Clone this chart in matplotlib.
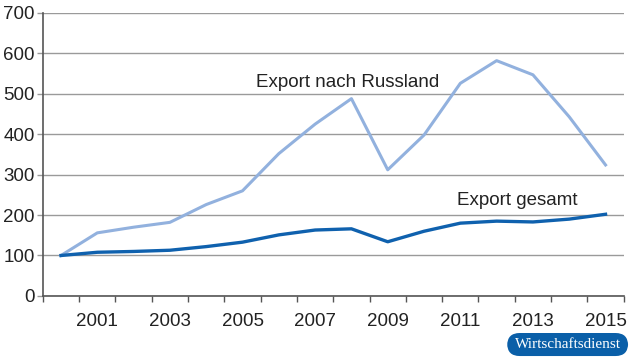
import matplotlib
matplotlib.use('Agg')
import matplotlib.pyplot as plt
import matplotlib.transforms as mtransforms
from matplotlib.patches import FancyBboxPatch
import numpy as np

plt.rcParams['font.family'] = ['Liberation Sans', 'DejaVu Sans']

years = list(range(2000, 2016))
russland = [100, 156, 170, 182, 226, 260, 352, 425, 488, 312, 398, 526, 582, 547, 443, 324]
gesamt = [100, 108, 110, 113, 122, 133, 151, 163, 166, 134, 160, 180, 185, 183, 190, 202]
year_labels = ['2001', '2003', '2005', '2007', '2009', '2011', '2013', '2015']
yticks = [0, 100, 200, 300, 400, 500, 600, 700]

c_light = '#92b1de'
c_dark = '#0f61ae'
c_text = '#222222'

fig = plt.figure(figsize=(6.3, 3.6), dpi=100)
ax = fig.add_axes([0.068, 0.178, 0.922, 0.786])

x = np.arange(len(years))
ax.plot(x, russland, color=c_light, lw=2.2, zorder=3)
ax.plot(x, gesamt, color=c_dark, lw=2.4, zorder=4)

ax.set_xlim(-0.5, len(years) - 0.5)
ax.set_ylim(0, 700)
ax.set_yticks(yticks)
ax.set_yticklabels([str(v) for v in yticks], fontsize=13.5, color=c_text)
ax.yaxis.grid(True, color='#9a9a9a', lw=1)
ax.set_axisbelow(True)
ax.tick_params(axis='y', length=4, width=1, color='#9a9a9a', pad=2)

lab_pos = [years.index(int(s)) for s in year_labels]
ax.set_xticks(lab_pos)
ax.set_xticklabels(year_labels, fontsize=13.5, color=c_text)
shift = mtransforms.ScaledTranslation(-4 / 100, 0, fig.dpi_scale_trans)
for lab in ax.get_xticklabels():
    lab.set_transform(lab.get_transform() + shift)
ax.set_xticks(np.arange(-0.5, len(years)), minor=True)
ax.tick_params(axis='x', which='major', length=0, pad=12)
ax.tick_params(axis='x', which='minor', length=4.5, width=1, color='#555555')

for s in ['top', 'right']:
    ax.spines[s].set_visible(False)
ax.spines['left'].set_color('#555555')
ax.spines['bottom'].set_color('#555555')
ax.spines['left'].set_linewidth(1.2)
ax.spines['bottom'].set_linewidth(1.2)

ax.text(5.37, 528, 'Export nach Russland', fontsize=13.5, color=c_text, va='center', ha='left')
ax.text(10.9, 237, 'Export gesamt', fontsize=13.5, color=c_text, va='center', ha='left')

badge = FancyBboxPatch((0.805, 0.011), 0.192, 0.064, boxstyle='round,pad=0,rounding_size=0.02',
                       transform=fig.transFigure, facecolor='#0a5fa8', edgecolor='none', mutation_aspect=1.75)
fig.patches.append(badge)
fig.text(0.901, 0.043, 'Wirtschaftsdienst', fontsize=11, color='white', ha='center', va='center',
         family=['Liberation Serif', 'DejaVu Serif'])

fig.savefig('out.png', dpi=100)
